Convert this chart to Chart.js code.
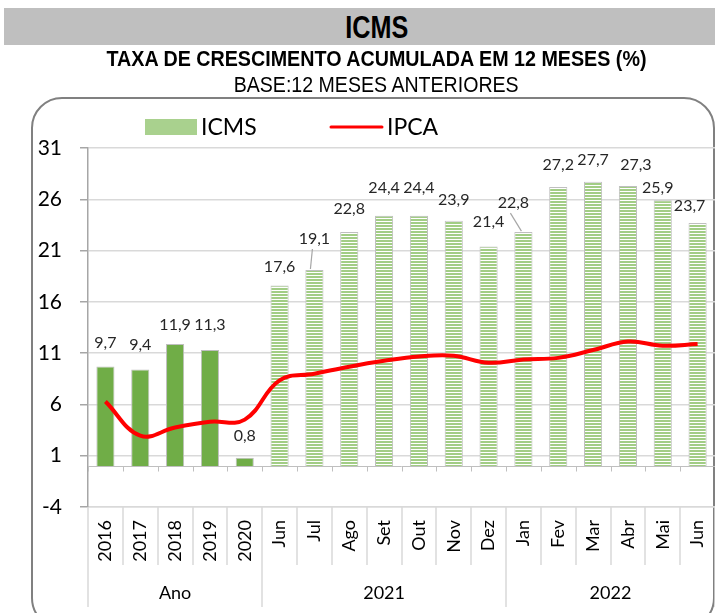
<!DOCTYPE html>
<html>
<head>
<meta charset="utf-8">
<script src="https://cdn.jsdelivr.net/npm/chart.js@4.4.1/dist/chart.umd.min.js"></script>
<style>
  html, body { margin: 0; padding: 0; background: #fff; }
  #wrap { position: relative; width: 715px; height: 613px; overflow: hidden; }
  #c { position: absolute; left: 0; top: 0; }
  .band { position: absolute; left: 4px; top: 8px; width: 711px; height: 37px; background: #bfbfbf; }
  .t { position: absolute; white-space: nowrap; font-family: 'Liberation Sans Narrow', 'Arial Narrow', 'Liberation Sans', Arial, sans-serif; color: #000; line-height: 1; transform-origin: center center; }
  #t1 { font-weight: bold; font-size: 31px; }
  #t2 { font-weight: bold; font-size: 22px; }
  #t3 { font-size: 22px; }
</style>
</head>
<body>
<div id="wrap">
  <canvas id="c" width="715" height="613"></canvas>
  <div class="band"></div>
  <div class="t" id="t1">ICMS</div>
  <div class="t" id="t2">TAXA DE CRESCIMENTO ACUMULADA EM 12 MESES (%)</div>
  <div class="t" id="t3">BASE:12 MESES ANTERIORES</div>
</div>
<script>
// ---- data ----
const categories = ['2016','2017','2018','2019','2020','Jun','Jul','Ago','Set','Out','Nov','Dez','Jan','Fev','Mar','Abr','Mai','Jun'];
const icmsValues = [9.7, 9.4, 11.9, 11.3, 0.8, 17.6, 19.1, 22.8, 24.4, 24.4, 23.9, 21.4, 22.8, 27.2, 27.7, 27.3, 25.9, 23.7];
const ipcaValues = [6.29, 2.95, 3.75, 4.31, 4.52, 8.35, 8.99, 9.68, 10.25, 10.67, 10.74, 10.06, 10.38, 10.54, 11.30, 12.13, 11.73, 11.89];
const groupLabels = ['Ano', '2021', '2022'];
const groupSizes = [5, 7, 6];
const yTicks = [-4, 1, 6, 11, 16, 21, 26, 31];
const seriesNames = ['ICMS', 'IPCA'];

// ---- titles: fit widths ----
function placeTitle(id, cx, cy, targetW) {
  const el = document.getElementById(id);
  const w = el.getBoundingClientRect().width;
  const h = el.getBoundingClientRect().height;
  el.style.left = (cx - w / 2) + 'px';
  el.style.top = (cy - h / 2) + 'px';
  el.style.transform = 'scaleX(' + (targetW / w) + ')';
}
placeTitle('t1', 377, 27, 63);
placeTitle('t2', 377, 59, 540);
placeTitle('t3', 376, 85, 285);

// ---- patterns ----
function stripePattern() {
  const p = document.createElement('canvas');
  p.width = 4; p.height = 3;
  const g = p.getContext('2d');
  g.fillStyle = '#ffffff'; g.fillRect(0, 0, 4, 3);
  g.fillStyle = '#a2cd85'; g.fillRect(0, 0, 4, 2);
  return document.getElementById('c').getContext('2d').createPattern(p, 'repeat');
}
const stripes = stripePattern();
const barColors = categories.map((c, i) => i < groupSizes[0] ? '#70ad47' : stripes);

const labelFont = "16px Lato, 'Open Sans', sans-serif";
const labelNudge = [[0,-24],[0,-25],[0,-19],[0,-25],[0,-22],[0,-19],[0,-31],[0,-23],[0,-28],[0,-28],[0,-21],[0,-25],[-10,-29],[0,-22],[0,-22],[8,-21],[-5,-12],[-8,-17]];
const leaders = {6: true, 12: true};

const decorPlugin = {
  id: 'decor',
  beforeDraw(chart) {
    const ctx = chart.ctx;
    ctx.save();
    ctx.fillStyle = '#fff';
    ctx.fillRect(0, 0, chart.width, chart.height);
    // rounded frame
    ctx.strokeStyle = '#808080';
    ctx.lineWidth = 2;
    ctx.beginPath();
    ctx.roundRect(32, 98, 682, 530, 30);
    ctx.stroke();
    ctx.restore();
  },
  afterDatasetsDraw(chart) {
    const ctx = chart.ctx;
    const xs = chart.scales.x, ys = chart.scales.y;
    const area = chart.chartArea;
    const n = categories.length;
    const step = (area.right - area.left) / n;
    ctx.save();
    // zero line with tick marks
    const y0 = Math.round(ys.getPixelForValue(0)) + 0.5;
    ctx.strokeStyle = '#bfbfbf';
    ctx.lineWidth = 1;
    ctx.beginPath();
    ctx.moveTo(area.left, y0); ctx.lineTo(area.right, y0);
    for (let i = 0; i <= n; i++) {
      const x = Math.round(area.left + i * step) + 0.5;
      ctx.moveTo(x, y0); ctx.lineTo(x, y0 + 5);
    }
    ctx.stroke();
    // category separators under axis
    const yb = area.bottom;
    ctx.strokeStyle = '#d9d9d9';
    ctx.lineWidth = 1.5;
    ctx.beginPath();
    const groupEdges = [0];
    groupSizes.reduce((a, s) => { groupEdges.push(a + s); return a + s; }, 0);
    for (let i = 0; i <= n; i++) {
      const x = Math.round(area.left + i * step);
      const isGroup = groupEdges.includes(i);
      ctx.moveTo(x, yb); ctx.lineTo(x, isGroup ? 607 : 565);
    }
    ctx.stroke();
    // group labels
    ctx.fillStyle = '#000';
    ctx.font = "18px Lato, 'Open Sans', sans-serif";
    ctx.textAlign = 'center';
    ctx.textBaseline = 'middle';
    for (let g = 0; g < groupLabels.length; g++) {
      const cx = area.left + (groupEdges[g] + groupEdges[g + 1]) / 2 * step;
      ctx.fillText(groupLabels[g], cx, 593);
    }
    // data labels
    const meta = chart.getDatasetMeta(1);
    ctx.font = labelFont;
    ctx.fillStyle = '#262626';
    meta.data.forEach((bar, i) => {
      const nx = bar.x + labelNudge[i][0];
      const ny = bar.y + labelNudge[i][1];
      const txt = icmsValues[i].toFixed(1).replace('.', ',');
      ctx.fillText(txt, nx, ny);
      if (leaders[i]) {
        ctx.strokeStyle = '#a6a6a6';
        ctx.lineWidth = 1.2;
        ctx.beginPath();
        ctx.moveTo(nx - 2 + (i === 12 ? -1 : 0), ny + 10);
        ctx.lineTo(bar.x + (i === 12 ? -2 : -4), bar.y - 1);
        ctx.stroke();
      }
    });
    // legend
    ctx.font = "23px Lato, 'Open Sans', sans-serif";
    ctx.textAlign = 'left';
    ctx.fillStyle = '#a9d18e';
    ctx.fillRect(145, 119, 52, 16);
    ctx.fillStyle = '#000';
    ctx.fillText(seriesNames[0], 201, 128);
    ctx.strokeStyle = '#ff0000';
    ctx.lineWidth = 3;
    ctx.lineCap = 'round';
    ctx.beginPath();
    ctx.moveTo(331, 127); ctx.lineTo(382, 127);
    ctx.stroke();
    ctx.fillText(seriesNames[1], 387, 128);
    ctx.restore();
  }
};

new Chart(document.getElementById('c'), {
  type: 'bar',
  data: {
    labels: categories,
    datasets: [
      {
        type: 'line',
        label: seriesNames[1],
        data: ipcaValues,
        borderColor: '#ff0000',
        borderWidth: 4,
        pointRadius: 0,
        tension: 0.4,
        fill: false
      },
      {
        type: 'bar',
        label: seriesNames[0],
        data: icmsValues,
        backgroundColor: barColors,
        borderColor: '#bfbfbf',
        borderWidth: 1,
        categoryPercentage: 1,
        barPercentage: 0.52
      }
    ]
  },
  options: {
    responsive: false,
    animation: false,
    devicePixelRatio: 1,
    layout: { padding: { top: 148, left: 0, right: 0, bottom: 0 } },
    plugins: { legend: { display: false }, tooltip: { enabled: false } },
    scales: {
      x: {
        type: 'category',
        offset: true,
        grid: { display: false, drawTicks: false },
        border: { display: true, color: '#d9d9d9', width: 1.5 },
        ticks: {
          autoSkip: false,
          maxRotation: 90,
          minRotation: 90,
          padding: 13,
          color: '#000',
          font: { family: "Lato, 'Open Sans', sans-serif", size: 18 }
        },
        afterFit(scale) {
          scale.height = 106;
          scale.paddingLeft = 0;
          scale.paddingRight = 0;
        }
      },
      y: {
        min: yTicks[0],
        max: yTicks[yTicks.length - 1],
        afterBuildTicks(scale) { scale.ticks = yTicks.map(v => ({ value: v })); },
        grid: { color: '#d9d9d9', lineWidth: 1.5, tickColor: '#a6a6a6', tickLength: 8, drawTicks: true },
        border: { display: true, color: '#a6a6a6', width: 1.5 },
        ticks: {
          padding: 18,
          color: '#000',
          font: { family: "Lato, 'Open Sans', sans-serif", size: 21 }
        },
        afterFit(scale) {
          scale.width = 88;
          scale.paddingTop = 0;
          scale.paddingBottom = 0;
        }
      }
    }
  },
  plugins: [decorPlugin]
});
</script>
</body>
</html>
